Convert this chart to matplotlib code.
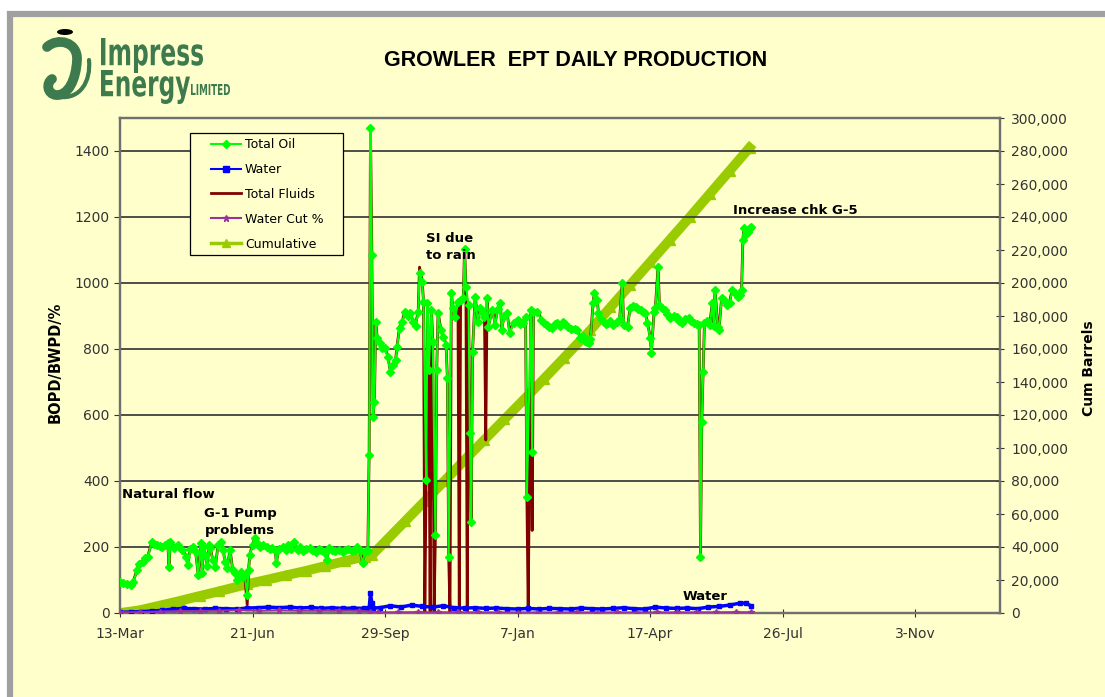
import matplotlib
matplotlib.use('Agg')
import matplotlib.pyplot as plt
import matplotlib.dates as mdates
import matplotlib.transforms as mtrans
from matplotlib.patches import Rectangle, PathPatch, Ellipse
from matplotlib.path import Path
from matplotlib.textpath import TextPath
from matplotlib.font_manager import FontProperties
from matplotlib.ticker import MultipleLocator, FuncFormatter
from matplotlib.lines import Line2D
import numpy as np
import pandas as pd

plt.rcParams['font.family'] = ['DejaVu Sans']

# ---- data (days counted from 13-Mar-2004) ----
start = pd.Timestamp('2004-03-13')

# daily oil / total fluids, None = no oil reading (well shut in)
day = [0, 2, 5, 8, 10, 13, 14, 17, 19, 21, 24, 26, 28, 30, 32, 34, 36, 37, 38, 41,
       44, 47, 50, 51, 53, 55, 57, 59, 61, 62, 63, 64, 66, 67, 68, 70, 72, 74, 76, 78,
       79, 81, 83, 85, 87, 88, 89, 91, 92, 94, 96, 97, 98, 100, 102, 104, 106, 108, 111, 113,
       115, 117, 118, 120, 123, 125, 127, 129, 131, 134, 136, 138, 140, 143, 145, 148, 150, 152, 154, 156,
       158, 160, 162, 165, 168, 170, 172, 175, 177, 179, 181, 183, 185, 186, 187, 188, 189, 190, 191, 192,
       193, 194, 196, 198, 200, 202, 204, 206, 208, 209, 211, 213, 215, 217, 219, 221, 223, 225, 226, 228,
       229, 230, 231, 232, 233, 234, 235, 236, 237, 238, 239, 240, 242, 244, 246, 247, 248, 249, 250, 251,
       253, 255, 256, 257, 259, 260, 261, 262, 263, 264, 265, 266, 268, 270, 272, 274, 275, 276, 277, 278,
       281, 283, 285, 287, 288, 290, 292, 294, 297, 300, 302, 304, 306, 307, 308, 310, 311, 312, 315, 318,
       320, 322, 324, 326, 328, 330, 332, 334, 336, 338, 340, 343, 345, 347, 349, 351, 352, 354, 355, 357,
       358, 360, 361, 363, 365, 367, 368, 370, 372, 375, 377, 379, 380, 383, 385, 387, 389, 391, 393, 395,
       396, 398, 400, 401, 403, 404, 406, 407, 409, 411, 413, 415, 418, 420, 422, 424, 426, 429, 431, 433,
       435, 436, 437, 438, 439, 440, 441, 443, 445, 447, 448, 449, 451, 452, 454, 456, 458, 460, 462, 464,
       466, 468, 469, 470, 471, 472, 473, 474, 475, 476]

oil = [95, 91, 88, 85, 94, 130, 150, 155, 167, 170, 215, 210, 206, 203, 200, 205, 212, 139, 215, 197,
       205, 190, 170, 145, 195, 200, 185, 115, 212, 121, 200, 176, 142, 205, 197, 160, 139, 205, 215, 190,
       155, 136, 191, 130, 120, 100, 115, 125, 109, 115, 55, 130, 176, 206, 227, 210, 200, 205, 200, 195,
       198, 191, 151, 195, 200, 190, 205, 195, 215, 191, 200, 188, 195, 197, 190, 185, 195, 190, 185, 160,
       197, 190, 188, 192, 185, 190, 195, 188, 192, 200, 190, 151, 185, 191, 188, 479, 1470, 1085, 594, 640,
       882, 833, 818, 803, 803, 776, 730, 751, 767, 806, 864, 882, 912, 900, 909, 882, 870, 912, 1030, 1003,
       942, None, 403, 939, 736, None, 918, 821, None, 236, 736, 909, 858, 836, 812, 712, 170, None, 970, 924,
       897, 942, None, 950, 954, 1103, 988, None, 933, 545, 276, 791, 958, 882, 924, 909, 897, None, 954, 867,
       918, 873, 920, 939, 858, 900, 909, 848, 880, 888, 875, 879, 897, 352, None, 918, 488, 912, 912, 888,
       880, 873, 868, 864, 875, 879, 870, 882, 875, 867, 862, 860, 858, 833, 840, 825, 821, 818, 830, 939,
       970, 948, 909, 890, 882, 875, 879, 885, 873, 882, 890, 1000, 873, 867, 924, 930, 927, 920, 918, 912,
       909, 879, 833, 788, 912, 925, 1048, 933, 925, 918, 905, 894, 900, 897, 885, 879, 890, 894, 885, 879,
       875, 873, 873, 170, 579, 730, 879, 885, 873, 939, 870, 979, 867, 858, 954, 948, 933, 940, 979, 970,
       958, 965, 979, 1130, 1167, 1150, 1160, 1155, 1167, 1170]

fluids = [97, 93, 90, 87, 96, 132, 152, 157, 169, 172, 217, 212, 208, 205, 202, 207, 214, 141, 217, 199,
          207, 192, 172, 147, 197, 202, 187, 117, 214, 123, 202, 178, 144, 207, 199, 162, 141, 207, 217, 192,
          157, 138, 193, 132, 122, 102, 117, 127, 111, 117, 25, 132, 178, 208, 229, 212, 202, 207, 202, 197,
          200, 193, 153, 197, 202, 192, 207, 197, 217, 193, 202, 190, 197, 199, 192, 187, 197, 192, 187, 162,
          199, 192, 190, 194, 187, 192, 197, 190, 194, 202, 192, 153, 187, 193, 190, 490, 1475, 1095, 600, 648,
          886, 836, 821, 806, 806, 779, 733, 754, 770, 809, 867, 885, 915, 903, 912, 885, 873, 915, 1048, 1006,
          945, 0, 406, 942, 739, 0, 921, 824, 0, 239, 739, 912, 861, 839, 815, 715, 173, 0, 973, 927,
          900, 945, 0, 953, 957, 1106, 991, 0, 936, 548, 279, 794, 961, 885, 927, 912, 900, 524, 957, 870,
          921, 876, 923, 942, 861, 903, 912, 851, 883, 891, 878, 882, 900, 355, 0, 921, 250, 915, 915, 891,
          883, 876, 871, 867, 878, 882, 873, 885, 878, 870, 865, 863, 861, 836, 843, 828, 824, 821, 833, 942,
          973, 951, 912, 893, 885, 878, 882, 888, 876, 885, 893, 1003, 876, 870, 927, 933, 930, 923, 921, 915,
          912, 882, 836, 791, 915, 928, 1051, 936, 928, 921, 908, 897, 903, 900, 888, 882, 893, 897, 888, 882,
          878, 876, 876, 173, 582, 733, 882, 888, 876, 942, 873, 982, 870, 861, 957, 951, 936, 943, 982, 973,
          961, 968, 982, 1133, 1170, 1153, 1163, 1158, 1170, 1173]

water_day = [0, 8, 16, 24, 32, 40, 48, 56, 64, 72, 80, 88, 96, 104, 112, 120, 128, 136, 144, 152,
             160, 168, 176, 184, 188, 189, 190, 191, 196, 204, 212, 220, 228, 236, 244, 252, 260, 268, 276, 284,
             292, 300, 308, 316, 324, 332, 340, 348, 356, 364, 372, 380, 388, 396, 404, 412, 420, 428, 436, 444,
             452, 460, 468, 472, 476]
water = [2, 3, 4, 6, 8, 12, 14, 13, 12, 14, 13, 12, 15, 16, 18, 16, 18, 15, 17, 14,
         16, 14, 15, 14, 15, 60, 30, 15, 16, 22, 18, 24, 20, 18, 22, 16, 15, 16, 14, 15,
         13, 12, 14, 12, 14, 13, 12, 15, 13, 12, 14, 16, 13, 12, 18, 15, 14, 15, 13, 18,
         20, 24, 30, 30, 22]

cut_day = [0, 15, 30, 45, 60, 75, 90, 105, 120, 135, 150, 165, 180, 189, 195, 210, 225, 240,
           255, 270, 285, 300, 315, 330, 345, 360, 375, 390, 405, 420, 435, 450, 465, 476]
water_cut = [2, 2.5, 4, 6, 6, 7, 9, 7, 8, 7, 7, 7, 7, 4, 2, 2, 2.5, 2,
             2, 1.8, 1.6, 1.5, 1.5, 1.4, 1.6, 1.5, 1.6, 1.5, 1.7, 1.6, 1.8, 2, 2.5, 2]

cum_day = [0, 15, 30, 45, 60, 75, 96, 110, 125, 140, 155, 170, 185, 190, 200, 215, 230, 245, 260, 275,
           290, 308, 320, 335, 355, 370, 385, 400, 415, 430, 445, 460, 475]
cum = [0, 1700, 4500, 7300, 10300, 13200, 17500, 20000, 22800, 25500, 28500, 31500, 34200, 35000, 43200,
       55500, 67800, 80200, 92700, 105000, 117300, 132000, 142000, 154600, 171500, 185200, 198900, 212600,
       226300, 240000, 254000, 268000, 282000]

tick_days = [0, 100, 200, 300, 400, 500, 600]

# ---- figure ----
W, H = 1105, 697
BG = '#FFFFCC'
fig = plt.figure(figsize=(W / 100, H / 100), dpi=100)
fig.patch.set_facecolor('white')

def fx(x):
    return x / W

def fy(y):
    return 1 - y / H

# chart area with grey border
fig.patches.append(Rectangle((fx(10), fy(H + 20)), fx(W + 40), (H + 20 - 14) / H,
                             transform=fig.transFigure, facecolor=BG, edgecolor='#A0A0A0',
                             lw=4.5, zorder=-5))

ax = fig.add_axes([fx(120), fy(613), fx(880), 495 / H])
ax2 = ax.twinx()
ax.set_zorder(ax2.get_zorder() + 1)
ax.patch.set_visible(False)
ax2.patch.set_visible(True)
ax2.patch.set_facecolor(BG)

d_all = start + pd.to_timedelta(day, unit='D')
oil_arr = np.array([np.nan if v is None else v for v in oil], dtype=float)
ok = ~np.isnan(oil_arr)

ax.plot(d_all, fluids, color='#800000', lw=2, zorder=2)
ax.plot(start + pd.to_timedelta(water_day, unit='D'), water, color='#0000FF', lw=2.5,
        marker='s', ms=3.5, zorder=3)
ax.plot(start + pd.to_timedelta(cut_day, unit='D'), water_cut, color='#993399', lw=1.5,
        marker='*', ms=5, zorder=3)
ax.plot(d_all[ok], oil_arr[ok], color='#00FF00', lw=1.5, marker='D', ms=4.2,
        mec='#00FF00', zorder=4)
ax2.plot(start + pd.to_timedelta(cum_day, unit='D'), cum, color='#99CC00', lw=7,
         marker='^', ms=7, mec='#99CC00', zorder=2)

ax.set_xlim(start, start + pd.Timedelta(days=664))
ax.set_ylim(0, 1500)
ax2.set_ylim(0, 300000)
ax.yaxis.set_major_locator(MultipleLocator(200))
ax2.yaxis.set_major_locator(MultipleLocator(20000))
ax2.yaxis.set_major_formatter(FuncFormatter(lambda v, p: f'{v:,.0f}'))
ax.set_xticks(start + pd.to_timedelta(tick_days, unit='D'))
ax.xaxis.set_major_formatter(mdates.DateFormatter('%-d-%b'))

ax.yaxis.grid(True, color='#404040', lw=1.3)
ax.set_axisbelow(True)

ax.tick_params(axis='both', labelsize=10, colors='#333333', length=4, direction='out')
ax.tick_params(axis='x', direction='inout', length=6, pad=7)
ax2.tick_params(axis='y', labelsize=10, colors='#333333', direction='inout', length=6, pad=5)

for a in (ax, ax2):
    for s in a.spines.values():
        s.set_color('#707070')
        s.set_linestyle((0, (1, 1)))
        s.set_linewidth(1.6)

fig.text(fx(55), fy(362), 'BOPD/BWPD/%', rotation=90, ha='center', va='center',
         fontsize=10.5, fontweight='bold')
fig.text(fx(1089), fy(368), 'Cum Barrels', rotation=90, ha='center', va='center',
         fontsize=10, fontweight='bold')

# title
fig.text(fx(576), fy(60), 'GROWLER  EPT DAILY PRODUCTION', ha='center', va='center',
         fontsize=15.5, fontweight='bold', family='Liberation Sans')

# annotations
note = dict(fontsize=9.5, fontweight='bold', va='center')
fig.text(fx(122), fy(495), 'Natural flow', ha='left', **note)
fig.text(fx(240), fy(522), 'G-1 Pump\nproblems', ha='center', linespacing=1.35, **note)
fig.text(fx(426), fy(247), 'SI due\nto rain', ha='left', linespacing=1.35, **note)
fig.text(fx(733), fy(210), 'Increase chk G-5', ha='left', **note)
fig.text(fx(683), fy(596), 'Water', ha='left', **note)

# legend with box
fig.patches.append(Rectangle((fx(190), fy(255)), fx(153), 122 / H, transform=fig.transFigure,
                             facecolor=BG, edgecolor='black', lw=0.9, zorder=5))
handles = [Line2D([], [], color='#00FF00', lw=1.5, marker='D', ms=4, mec='#00FF00'),
           Line2D([], [], color='#0000FF', lw=1.5, marker='s', ms=4),
           Line2D([], [], color='#800000', lw=2),
           Line2D([], [], color='#993399', lw=1.5, marker='*', ms=5),
           Line2D([], [], color='#99CC00', lw=2.5, marker='^', ms=6, mec='#99CC00')]
labels = ['Total Oil', 'Water', 'Total Fluids', 'Water Cut %', 'Cumulative']
leg = fig.legend(handles, labels, loc='upper left', bbox_to_anchor=(fx(211), fy(138)),
                 frameon=False, fontsize=9, handlelength=2.4, handletextpad=0.3,
                 labelspacing=0.95, borderpad=0, borderaxespad=0)
leg.set_zorder(6)

# logo
GREEN = '#3D7A4E'

def path_in_box(s, x0, y0, x1, y1, weight='bold', size=100):
    tp = TextPath((0, 0), s, size=size, prop=FontProperties(family='DejaVu Sans', weight=weight))
    bb = tp.get_extents()
    tr = (mtrans.Affine2D().translate(-bb.x0, -bb.y0)
          .scale((x1 - x0) / bb.width / W, (y1 - y0) / bb.height / H)
          .translate(fx(x0), fy(y1)) + fig.transFigure)
    fig.patches.append(PathPatch(tp, transform=tr, facecolor=GREEN, edgecolor='none', zorder=3))

path_in_box('Impress', 101, 38, 203, 73)
path_in_box('Energy', 101, 70, 190, 104)
path_in_box('LIMITED', 191, 84, 230, 95)

fig.patches.append(Ellipse((fx(65), fy(32)), fx(16), 6 / H, transform=fig.transFigure,
                           facecolor='black', zorder=3))
pix = mtrans.Affine2D().scale(1 / W, -1 / H).translate(0, 1) + fig.transFigure
body = Path([(47, 47), (58, 37), (78, 42), (77, 60), (76, 80), (68, 96), (56, 95),
             (47, 94), (46, 83), (52, 79)],
            [Path.MOVETO, Path.CURVE4, Path.CURVE4, Path.CURVE4, Path.CURVE4, Path.CURVE4,
             Path.CURVE4, Path.CURVE4, Path.CURVE4, Path.CURVE4])
fig.patches.append(PathPatch(body, transform=pix, facecolor='none', edgecolor=GREEN,
                             lw=7, capstyle='round', zorder=3))
tail = Path([(60, 97), (80, 99), (91, 82), (89, 60)],
            [Path.MOVETO, Path.CURVE4, Path.CURVE4, Path.CURVE4])
fig.patches.append(PathPatch(tail, transform=pix, facecolor='none', edgecolor=GREEN,
                             lw=3, capstyle='round', zorder=3))

fig.savefig('out.png', dpi=100, facecolor=fig.get_facecolor())
